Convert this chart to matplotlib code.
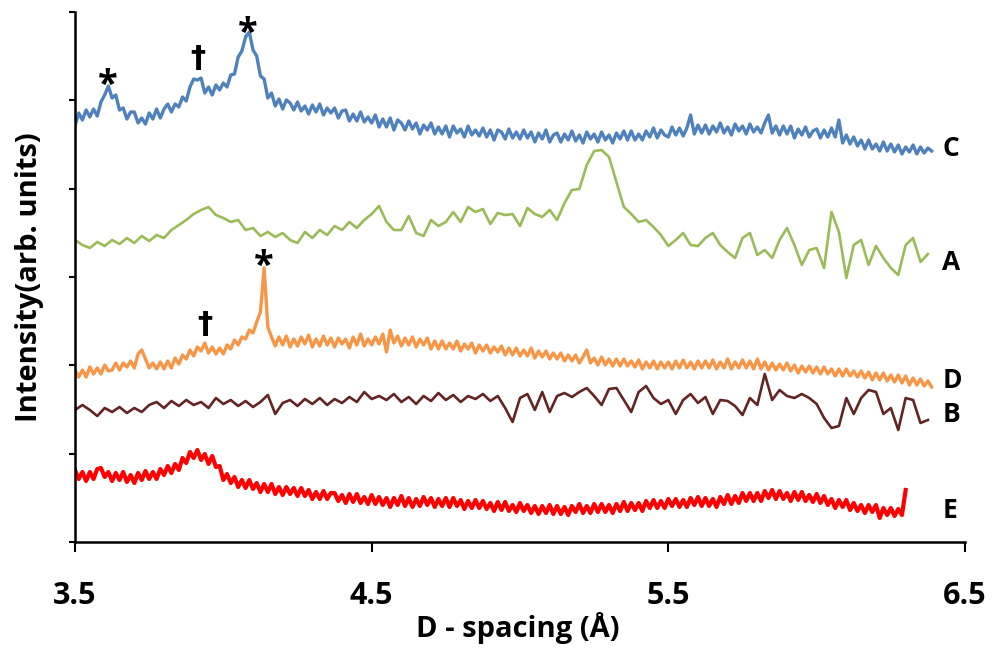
import numpy as np
import matplotlib
matplotlib.use("Agg")
import matplotlib.pyplot as plt

plt.rcParams['font.family'] = ['Open Sans', 'DejaVu Sans']

# d-spacing sampling of the traces (Angstrom)
d_start = 3.50
fine_step = 0.0125     # C, D, E (dense scans)
coarse_step = 0.025    # A, B (smoothed scans)

# intensities (arb. units), offset stacked as in the figure
trace_C = [416, 429, 422, 432, 425, 433, 426, 440, 447, 456,
           444, 447, 432, 434, 423, 430, 430, 419, 424, 418,
           429, 423, 433, 424, 433, 438, 430, 438, 435, 445,
           441, 455, 463, 462, 464, 449, 455, 447, 457, 452,
           459, 455, 467, 468, 485, 491, 505, 510, 492, 486,
           466, 463, 444, 449, 436, 443, 433, 442, 439, 432,
           440, 431, 436, 428, 437, 430, 438, 427, 434, 429,
           434, 424, 431, 432, 421, 428, 421, 430, 420, 425,
           419, 427, 415, 423, 415, 424, 412, 422, 419, 412,
           421, 413, 419, 408, 417, 412, 419, 408, 415, 408,
           416, 405, 416, 409, 413, 405, 416, 407, 412, 406,
           414, 405, 412, 402, 412, 410, 403, 413, 404, 410,
           403, 412, 404, 410, 400, 409, 403, 412, 400, 407,
           409, 400, 408, 402, 411, 401, 407, 399, 410, 403,
           408, 400, 410, 402, 407, 399, 409, 403, 411, 402,
           411, 402, 408, 402, 411, 405, 414, 404, 412, 407,
           405, 415, 407, 414, 406, 414, 427, 408, 417, 409,
           417, 408, 416, 410, 419, 409, 415, 407, 418, 411,
           416, 408, 418, 410, 415, 409, 419, 427, 409, 416,
           407, 416, 408, 416, 404, 413, 407, 415, 405, 411,
           413, 404, 412, 405, 414, 405, 422, 399, 407, 398,
           405, 396, 402, 393, 402, 393, 398, 391, 400, 391,
           398, 390, 397, 388, 395, 390, 397, 388, 395, 389,
           394, 391]
trace_A = [302, 297, 294, 300, 296, 302, 298, 304, 299, 306, 301, 307, 304, 312, 317, 322, 328, 332, 335, 327,
           324, 320, 322, 312, 314, 306, 310, 305, 309, 302, 299, 310, 304, 312, 307, 316, 312, 320, 314, 322,
           328, 336, 320, 312, 312, 326, 309, 306, 322, 316, 320, 330, 320, 335, 330, 333, 318, 329, 327, 328,
           316, 334, 328, 325, 332, 322, 339, 352, 353, 377, 391, 392, 385, 360, 335, 328, 320, 322, 315, 307,
           296, 302, 309, 297, 296, 304, 309, 297, 290, 284, 304, 309, 287, 292, 284, 302, 314, 297, 277, 292,
           294, 274, 330, 310, 264, 297, 302, 277, 296, 284, 274, 267, 297, 304, 280, 288]
trace_D = [172, 165, 172, 165, 175, 168, 174, 168, 177, 171,
           172, 179, 172, 179, 175, 181, 174, 188, 192, 183,
           174, 179, 173, 180, 173, 181, 174, 184, 178, 187,
           183, 192, 186, 195, 191, 199, 189, 195, 188, 194,
           188, 197, 193, 202, 197, 205, 203, 212, 209, 220,
           230, 274, 215, 205, 196, 205, 197, 206, 195, 203,
           196, 205, 198, 207, 195, 203, 196, 206, 197, 204,
           195, 204, 198, 203, 194, 205, 197, 208, 196, 203,
           197, 205, 198, 208, 190, 212, 199, 206, 196, 204,
           197, 205, 195, 203, 197, 204, 193, 201, 193, 201,
           193, 199, 193, 201, 191, 198, 193, 199, 189, 197,
           191, 197, 189, 195, 190, 196, 187, 194, 187, 194,
           186, 192, 186, 194, 184, 191, 185, 191, 183, 189,
           183, 189, 181, 187, 181, 187, 179, 185, 192, 179,
           184, 177, 185, 177, 183, 176, 183, 176, 183, 176,
           181, 175, 182, 173, 180, 174, 181, 173, 180, 174,
           180, 173, 181, 174, 182, 174, 180, 173, 181, 174,
           181, 174, 182, 173, 180, 174, 183, 173, 180, 174,
           182, 174, 181, 173, 183, 173, 180, 172, 179, 172,
           178, 172, 179, 171, 177, 169, 176, 170, 176, 169,
           175, 168, 175, 168, 173, 166, 173, 166, 173, 166,
           171, 165, 171, 164, 170, 162, 169, 162, 169, 161,
           167, 160, 167, 159, 166, 157, 164, 157, 163, 156,
           161, 155]
trace_B = [132, 137, 132, 126, 134, 130, 135, 129, 134, 130, 137, 140, 134, 141, 136, 142, 137, 140, 134, 144,
           138, 142, 136, 141, 135, 140, 147, 128, 139, 142, 136, 143, 138, 144, 137, 143, 139, 145, 140, 150,
           143, 146, 142, 148, 140, 145, 138, 146, 141, 149, 142, 147, 140, 146, 143, 148, 141, 146, 134, 120,
           144, 148, 132, 150, 130, 146, 149, 145, 150, 154, 146, 137, 153, 154, 142, 130, 150, 156, 144, 138,
           142, 128, 142, 148, 139, 145, 128, 142, 141, 136, 127, 144, 137, 168, 142, 152, 146, 144, 148, 144,
           138, 124, 114, 116, 144, 128, 144, 152, 150, 128, 134, 112, 144, 142, 119, 122]
trace_E = [72, 63, 70, 61, 70, 63, 73, 74, 65, 70,
           61, 69, 62, 70, 60, 67, 59, 69, 62, 71,
           63, 70, 63, 73, 67, 76, 69, 78, 72, 84,
           79, 90, 84, 92, 82, 88, 78, 86, 75, 76,
           62, 68, 59, 65, 55, 62, 54, 62, 53, 59,
           50, 58, 50, 58, 48, 55, 47, 55, 48, 54,
           46, 54, 46, 52, 43, 50, 43, 51, 43, 49,
           49, 41, 47, 39, 48, 40, 48, 39, 45, 38,
           47, 38, 45, 37, 44, 35, 44, 37, 46, 36,
           44, 35, 43, 36, 45, 37, 44, 35, 43, 36,
           44, 35, 44, 36, 42, 33, 41, 34, 42, 34,
           41, 33, 39, 31, 40, 32, 40, 31, 37, 30,
           39, 31, 37, 29, 36, 28, 36, 29, 37, 28,
           36, 28, 35, 27, 36, 30, 38, 29, 36, 29,
           38, 30, 38, 30, 37, 29, 38, 31, 40, 31,
           39, 32, 39, 31, 41, 34, 42, 34, 41, 34,
           43, 36, 43, 35, 42, 35, 44, 37, 45, 36,
           44, 36, 43, 35, 45, 38, 47, 38, 46, 39,
           49, 41, 49, 41, 49, 41, 51, 44, 52, 43,
           51, 43, 49, 41, 50, 42, 50, 41, 47, 40,
           48, 39, 46, 37, 43, 34, 42, 35, 42, 32,
           39, 31, 37, 29, 37, 30, 37, 24, 34, 27,
           34, 26, 33, 27, 52]

traces = [
    ("C", trace_C, fine_step, "#4F81BD", 2.4, 394),
    ("A", trace_A, coarse_step, "#9BBB59", 1.9, 280),
    ("D", trace_D, fine_step, "#F79646", 2.4, 161),
    ("B", trace_B, coarse_step, "#632523", 1.9, 128),
    ("E", trace_E, fine_step, "#FF0000", 3.0, 32),
]

# peak markers: (d-spacing, intensity, symbol)
peak_marks = [
    (3.611, 456, "*"), (3.915, 484, "\u2020"), (4.083, 508, "*"),
    (3.938, 217, "\u2020"), (4.137, 275, "*"),
]

fig = plt.figure(figsize=(9.94, 6.57), dpi=100)
ax = fig.add_axes([75 / 994, 1 - 542 / 657, 890 / 994, 530 / 657])

for name, vals, step, color, lw, label_y in traces:
    d = d_start + step * np.arange(len(vals))
    ax.plot(d, vals, color=color, lw=lw, solid_joinstyle='round')
    ax.text(6.424, label_y, name, fontsize=19, fontweight='bold', ha='left', va='center')

for d, y, sym in peak_marks:
    if sym == "*":
        ax.text(d, y, sym, fontsize=26, fontweight='bold', ha='center', va='center')
    else:
        ax.text(d, y, sym, fontsize=22, fontweight='bold', ha='center', va='center',
                family='DejaVu Sans')

ax.set_xlim(3.5, 6.5)
ax.set_ylim(0, 530)
ax.set_xticks([3.5, 4.5, 5.5, 6.5])
ax.set_xticklabels(["3.5", "4.5", "5.5", "6.5"])
ax.set_yticks(np.linspace(0, 530, 7))
ax.set_yticklabels([])
for s in ["top", "right"]:
    ax.spines[s].set_visible(False)
for s in ["left", "bottom"]:
    ax.spines[s].set_linewidth(1.8)
ax.tick_params(axis='x', length=7, width=1.5, pad=21, labelsize=22)
ax.tick_params(axis='y', length=4, width=1.5)
for t in ax.get_xticklabels():
    t.set_fontweight('bold')

fig.text(518 / 994, 1 - 628 / 657, "D - spacing (\u00c5)", fontsize=21, fontweight='bold',
         ha='center', va='center')
fig.text(30 / 994, 1 - 277 / 657, "Intensity(arb. units)", fontsize=21, fontweight='bold',
         ha='center', va='center', rotation=90)

fig.savefig("out.png", dpi=100)
